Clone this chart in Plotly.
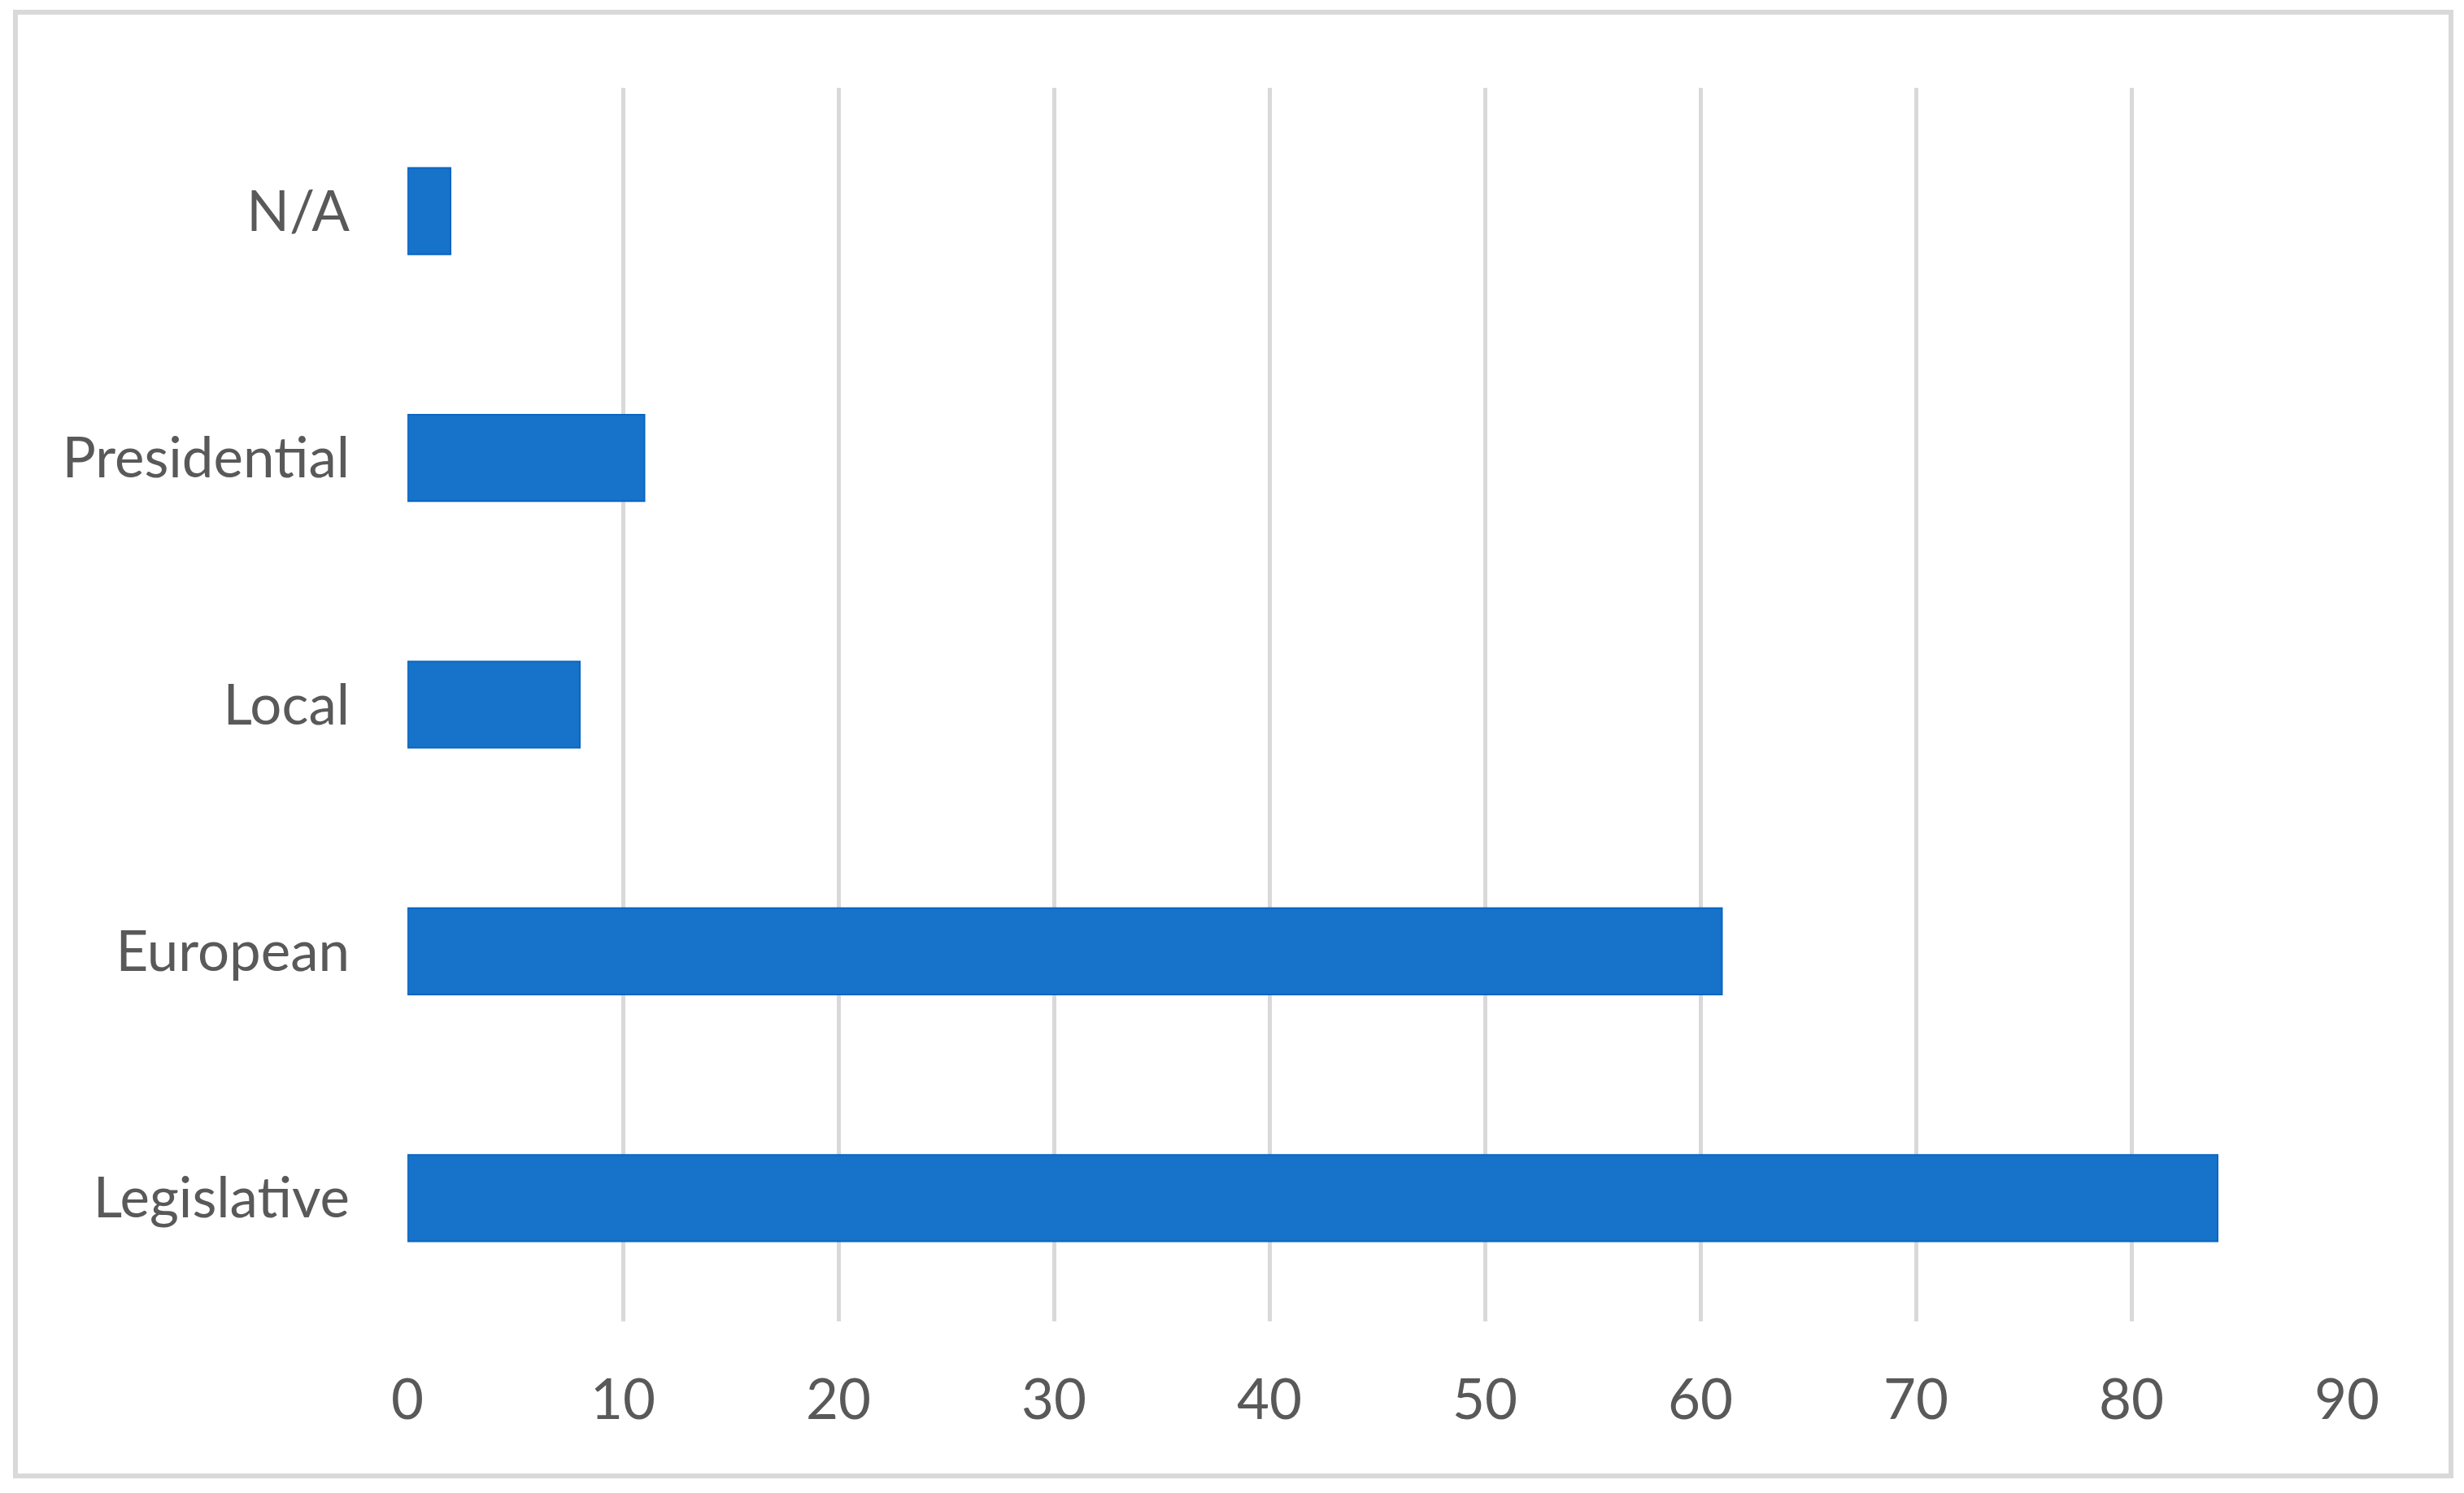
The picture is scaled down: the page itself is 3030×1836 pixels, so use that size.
import plotly.graph_objects as go

categories = ["Legislative", "European", "Local", "Presidential", "N/A"]
values = [84, 61, 8, 11, 2]
x_ticks = [0, 10, 20, 30, 40, 50, 60, 70, 80, 90]

# page body has an 8px margin, so the figure is sized/placed to compensate
OFF = 8
W, H = 3030 - 2 * OFF, 1836 - 2 * OFF
L, T = 501 - OFF, 108 - OFF
R = W - (2886 - OFF)
B = H - (1625 - OFF)
pw, ph = W - L - R, H - T - B

fig = go.Figure(go.Bar(
    x=values, y=categories, orientation="h",
    marker=dict(color="#1772C9", line=dict(color="#0A66C2", width=2)),
))

font = dict(family="Lato, Noto Sans, sans-serif", size=69, color="#595959")

bx0, by0, bx1, by1 = 19 - OFF, 15 - OFF, 3014 - OFF, 1815 - OFF

fig.update_layout(
    width=W, height=H,
    margin=dict(l=L, r=R, t=T, b=B),
    paper_bgcolor="white", plot_bgcolor="white",
    bargap=0.65,
    showlegend=False,
    font=font,
    xaxis=dict(range=[0, 90], tickvals=x_ticks, showgrid=True, gridcolor="#D9D9D9",
               gridwidth=5, zeroline=False, showline=False, ticks="",
               ticklabelstandoff=50, tickfont=font),
    yaxis=dict(categoryorder="array", categoryarray=categories, showgrid=False,
               zeroline=False, showline=False, ticks="", ticklabelstandoff=70,
               tickfont=font),
    shapes=[dict(type="rect", xref="paper", yref="paper",
                 x0=(bx0 - L) / pw, x1=(bx1 - L) / pw,
                 y0=(H - by1 - B) / ph, y1=(H - by0 - B) / ph,
                 line=dict(color="#D9D9D9", width=6), fillcolor="rgba(0,0,0,0)",
                 layer="below")],
)

fig.write_html("out.html")
